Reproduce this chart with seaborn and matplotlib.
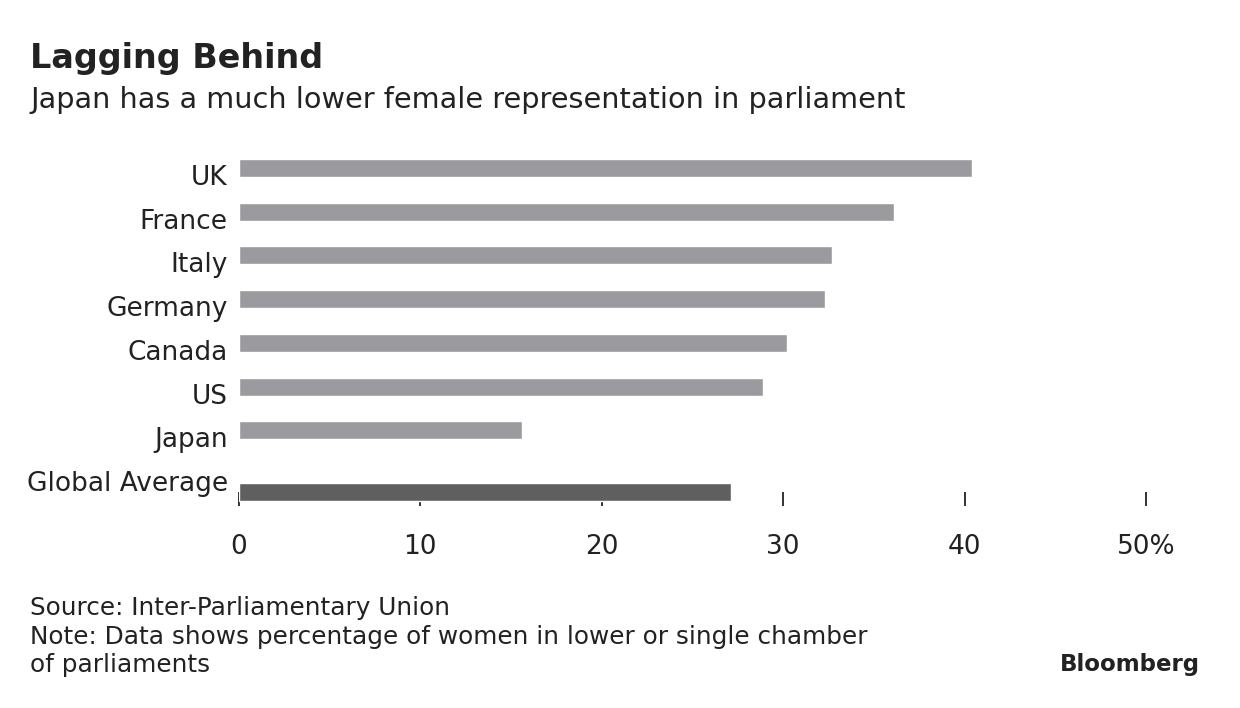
import numpy as np
import pandas as pd
import matplotlib
matplotlib.use("Agg")
import matplotlib.pyplot as plt
import matplotlib.transforms as mtransforms
import seaborn as sns

# data
countries = ["UK", "France", "Italy", "Germany", "Canada", "US", "Japan", "Global Average"]
share = [40.4, 36.1, 32.7, 32.3, 30.2, 28.9, 15.6, 27.1]
bar_colors = ["#9b9b9f"] * 7 + ["#5f5f5f"]
xticks = [0, 10, 20, 30, 40, 50]
xlabels = ["0", "10", "20", "30", "40", "50%"]

sns.set_style("white")
plt.rcParams["font.family"] = ["DejaVu Sans"]
txt = "#222222"

df = pd.DataFrame({"country": countries, "share": share})

fig = plt.figure(figsize=(12.4, 7.08), dpi=100)
ax = fig.add_axes([0.1927, 0.2853, 0.7315, 0.5085])

sns.barplot(data=df, x="share", y="country", hue="country", palette=bar_colors,
            legend=False, width=0.41, saturation=1, ax=ax)

# global average bar sits a bit lower than its label
gbar = ax.patches[-1]
gbar.set_y(gbar.get_y() + 0.41)

ax.set_xlim(0, 50)
ax.set_ylim(7.73, -0.5)
ax.set_xticks(xticks)
ax.set_xticklabels(xlabels)
ax.set_xlabel("")
ax.set_ylabel("")
ax.set_axisbelow(True)
sns.despine(ax=ax, left=True, bottom=True)
ax.tick_params(axis="x", bottom=True, direction="in", length=10, width=1.4, color="#333333",
               pad=20, labelsize=19, labelcolor=txt)
ax.tick_params(axis="y", left=False, length=0, pad=8, labelsize=19, labelcolor=txt)

off = mtransforms.ScaledTranslation(0, -7 / 100, fig.dpi_scale_trans)
for lab in ax.get_yticklabels():
    lab.set_transform(lab.get_transform() + off)

fig.text(30 / 1240, 1 - 42 / 708, "Lagging Behind", fontsize=24, fontweight="bold",
         color=txt, va="top", ha="left")
fig.text(30 / 1240, 1 - 86 / 708, "Japan has a much lower female representation in parliament",
         fontsize=20.7, color=txt, va="top", ha="left")

fig.text(30 / 1240, 1 - 596 / 708, "Source: Inter-Parliamentary Union", fontsize=17.8,
         color=txt, va="top", ha="left")
fig.text(30 / 1240, 1 - 625 / 708,
         "Note: Data shows percentage of women in lower or single chamber\nof parliaments",
         fontsize=17.8, color=txt, va="top", ha="left", linespacing=1.2)
fig.text(1200 / 1240, 1 - 664 / 708, "Bloomberg", fontsize=16.5, fontweight="bold",
         color=txt, va="center", ha="right")

fig.savefig("out.png", dpi=100)
